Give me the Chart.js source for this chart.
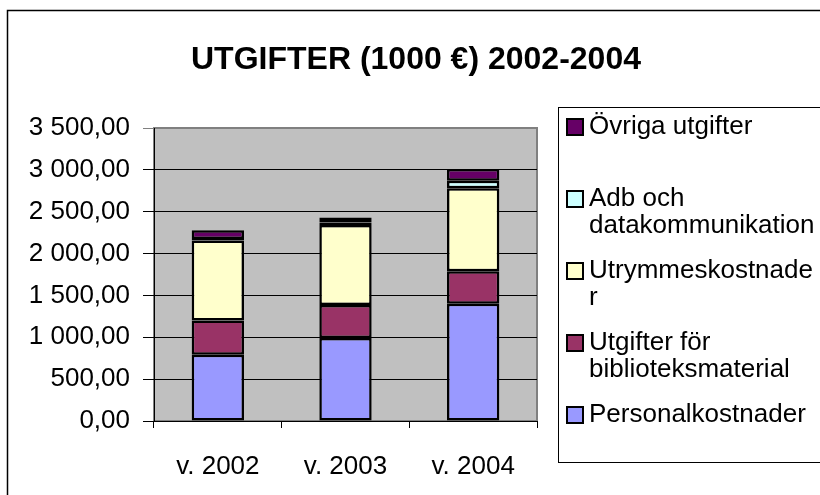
<!DOCTYPE html>
<html><head><meta charset="utf-8">
<script src="https://cdn.jsdelivr.net/npm/chart.js@4"></script>
<style>html,body{margin:0;padding:0;background:#fff}#wrap{width:820px;height:495px}</style>
</head><body><div id="wrap"><canvas id="c" width="820" height="495"></canvas></div>
<script>
const titleText = 'UTGIFTER (1000 €) 2002-2004';
const categories = ['v. 2002', 'v. 2003', 'v. 2004'];
const personalkostnader = [790, 990, 1400];
const biblioteksmaterial = [410, 395, 390];
const utrymmeskostnader = [955, 955, 990];
const adbData = [20, 30, 90];
const ovrigaUtgifter = [105, 60, 140];
const seriesNames = ['Personalkostnader', 'Utgifter för biblioteksmaterial', 'Utrymmeskostnader', 'Adb och datakommunikation', 'Övriga utgifter'];
const legendLines = [['Övriga utgifter'], ['Adb och', 'datakommunikation'], ['Utrymmeskostnade', 'r'], ['Utgifter för', 'biblioteksmaterial'], ['Personalkostnader']];
const yMin = 0, yMax = 3500, yStep = 500;
const colors = ['#9999FF', '#993366', '#FFFFCC', '#CCFFFF', '#660066'];

const FONT = '"Liberation Sans", Arial, sans-serif';

function fmt(v) {
  const parts = v.toFixed(2).split('.');
  const int = parts[0].replace(/\B(?=(\d{3})+(?!\d))/g, ' ');
  return int + ',' + parts[1];
}

const seriesData = [personalkostnader, biblioteksmaterial, utrymmeskostnader, adbData, ovrigaUtgifter];

const decor = {
  id: 'decor',
  beforeDraw(chart) {
    const ctx = chart.ctx, a = chart.chartArea;
    ctx.save();
    ctx.fillStyle = '#fff';
    ctx.fillRect(0, 0, chart.width, chart.height);
    ctx.strokeStyle = '#000';
    ctx.lineWidth = 1.5;
    ctx.strokeRect(7.5, 10.5, 830, 520);
    ctx.fillStyle = '#C0C0C0';
    ctx.fillRect(a.left, a.top, a.right - a.left, a.bottom - a.top);
    ctx.strokeStyle = '#808080';
    ctx.lineWidth = 2;
    ctx.strokeRect(a.left, a.top, a.right - a.left, a.bottom - a.top);
    ctx.restore();
  },
  afterDraw(chart) {
    const ctx = chart.ctx;
    ctx.save();
    ctx.fillStyle = '#000';
    ctx.font = 'bold 32px ' + FONT;
    ctx.textAlign = 'center';
    ctx.textBaseline = 'middle';
    ctx.fillText(titleText, 416, 60);
    ctx.strokeStyle = '#000';
    ctx.lineWidth = 1;
    ctx.fillStyle = '#fff';
    ctx.fillRect(558.5, 107.5, 300, 355);
    ctx.strokeRect(558.5, 107.5, 300, 355);
    ctx.font = '26px ' + FONT;
    ctx.textAlign = 'left';
    ctx.textBaseline = 'middle';
    const order = [4, 3, 2, 1, 0];
    order.forEach((di, i) => {
      const y = 127 + i * 72;
      ctx.fillStyle = colors[di];
      ctx.fillRect(567, y - 8, 16, 16);
      ctx.strokeStyle = '#000';
      ctx.lineWidth = 2;
      ctx.strokeRect(567, y - 8, 16, 16);
      ctx.fillStyle = '#000';
      legendLines[i].forEach((t, li) => ctx.fillText(t, 589, y + li * 27));
    });
    ctx.restore();
  }
};

new Chart(document.getElementById('c'), {
  type: 'bar',
  data: {
    labels: categories,
    datasets: seriesData.map((d, i) => ({
      label: seriesNames[i],
      data: d,
      backgroundColor: colors[i],
      borderColor: '#000',
      borderWidth: 2.5,
      borderSkipped: false,
      categoryPercentage: 1,
      barPercentage: 0.41
    }))
  },
  options: {
    responsive: false,
    animation: false,
    devicePixelRatio: 1,
    layout: { padding: { left: 0, top: 128, right: 283, bottom: 0 } },
    plugins: { legend: { display: false }, title: { display: false }, tooltip: { enabled: false } },
    scales: {
      x: {
        stacked: true,
        grid: { display: true, drawOnChartArea: false, drawTicks: true, tickLength: 7, color: '#000', offset: true },
        border: { display: true, color: '#000', width: 1 },
        ticks: { color: '#000', font: { family: FONT, size: 26 }, padding: 23, maxRotation: 0 },
        afterFit(s) { s.height = 74; }
      },
      y: {
        stacked: true,
        min: yMin, max: yMax,
        grid: { color: (c) => (c.tick && c.tick.value === yMax ? '#808080' : '#000'), lineWidth: 1, tickLength: 11 },
        border: { display: true, color: '#000', width: 1 },
        ticks: { stepSize: yStep, color: '#000', font: { family: FONT, size: 26 }, padding: 13, callback: (v) => fmt(v) },
        afterFit(s) { s.width = 154; }
      }
    }
  },
  plugins: [decor]
});
</script>
</body></html>
